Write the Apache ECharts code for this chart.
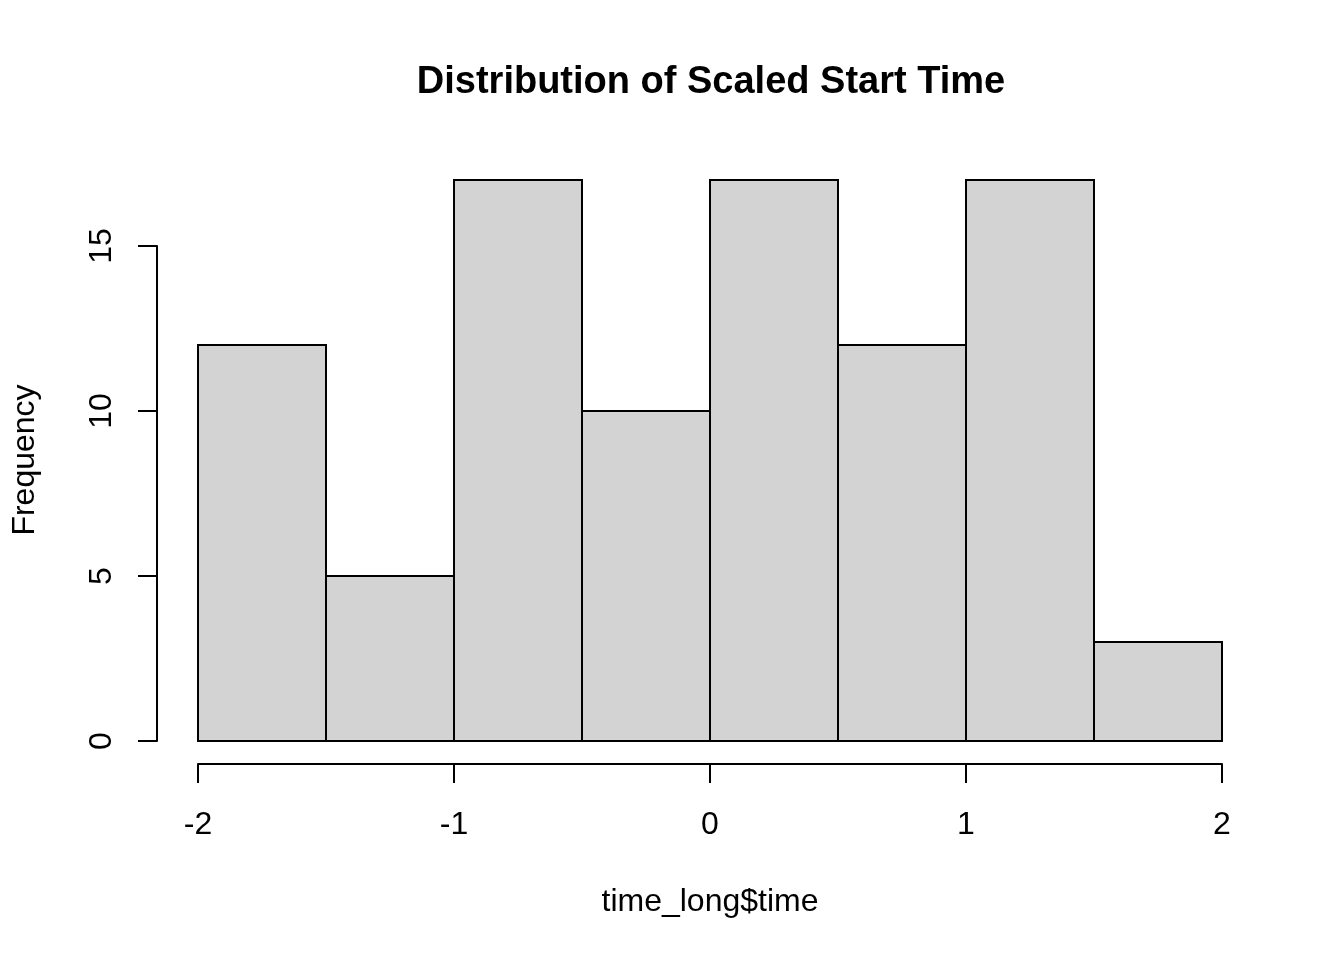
<!DOCTYPE html>
<html lang="en">
<head>
    <meta charset="UTF-8">
    <title>Distribution of Scaled Start Time</title>
    <script src="https://cdn.jsdelivr.net/npm/echarts@6/dist/echarts.min.js"></script>
</head>
<style>
    *{
        margin: 0;
        padding: 0;
    }
    html , body{
        overflow: hidden;
        height: 100%;
        width: 100%;
        background: #fff;
    }
    .contain{
        width: 1344px;
        height: 960px;
    }
</style>
<body>
<div class="contain"></div>
<script>
    // histogram bins and counts
    const binEdges = [-2, -1.5, -1, -0.5, 0, 0.5, 1, 1.5, 2];
    const counts = [12, 5, 17, 10, 17, 12, 17, 3];
    const titleText = 'Distribution of Scaled Start Time';
    const xName = 'time_long$time';
    const yName = 'Frequency';

    const font = "'Liberation Sans', Arial, sans-serif";

    let chart = echarts.init(document.querySelector('.contain'));

    let bins = counts.map((c, i) => [binEdges[i], binEdges[i + 1], c]);

    let option = {
        backgroundColor: '#fff',
        animation: false,
        textStyle: { fontFamily: font },
        title: {
            text: titleText,
            left: 706,
            top: 59,
            textAlign: 'center',
            textStyle: {
                fontFamily: font,
                fontWeight: 'bold',
                fontSize: 38,
                color: '#000'
            }
        },
        grid: {
            left: 198,
            right: 122,
            top: 246,
            bottom: 219,
            containLabel: false
        },
        xAxis: {
            type: 'value',
            min: -2,
            max: 2,
            interval: 1,
            offset: 23,
            name: xName,
            nameLocation: 'middle',
            nameGap: 122,
            nameTextStyle: { fontFamily: font, fontSize: 32, color: '#000' },
            axisLine: { show: true, onZero: false, lineStyle: { color: '#000', width: 2 } },
            axisTick: { show: true, length: 19, lineStyle: { color: '#000', width: 2 } },
            axisLabel: { fontFamily: font, fontSize: 32, color: '#000', margin: 45 },
            splitLine: { show: false }
        },
        yAxis: [{
            type: 'value',
            min: 0,
            max: 15,
            interval: 5,
            offset: 41,
            axisLine: { show: true, onZero: false, lineStyle: { color: '#000', width: 2 } },
            axisTick: { show: true, length: 19, lineStyle: { color: '#000', width: 2 } },
            axisLabel: { fontFamily: font, fontSize: 32, color: '#000', margin: 39, rotate: 90 },
            splitLine: { show: false }
        }],
        graphic: [{
            type: 'text',
            x: 25,
            y: 460,
            rotation: Math.PI / 2,
            style: {
                text: yName,
                fontFamily: font,
                fontSize: 32,
                fill: '#000',
                align: 'center',
                verticalAlign: 'middle'
            }
        }],
        series: [{
            type: 'custom',
            clip: false,
            data: bins,
            renderItem: function (params, api) {
                let p0 = api.coord([api.value(0), api.value(2)]);
                let p1 = api.coord([api.value(1), 0]);
                return {
                    type: 'rect',
                    shape: {
                        x: p0[0],
                        y: p0[1],
                        width: p1[0] - p0[0],
                        height: p1[1] - p0[1]
                    },
                    style: {
                        fill: '#D3D3D3',
                        stroke: '#000',
                        lineWidth: 2
                    }
                };
            }
        }]
    };

    chart.setOption(option);
</script>
</body>
</html>
